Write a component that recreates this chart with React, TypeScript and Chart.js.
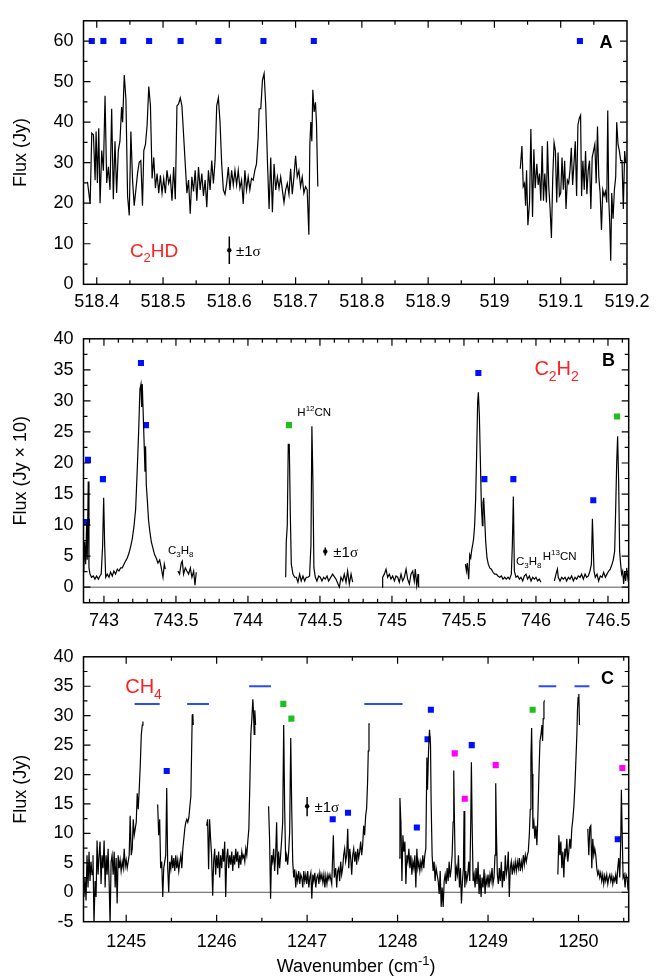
import React, { useEffect, useRef } from 'react';
import { Chart, registerables } from 'chart.js';
Chart.register(...registerables);

const SANS = '"Liberation Sans", Arial, Helvetica, sans-serif';
const SERIF = '"Liberation Serif", "Times New Roman", serif';
const BLUE = '#0010ff';
const GREEN = '#1fbf1f';
const MAGENTA = '#ff00ff';
const LINEBLUE = '#2a4bff';
const RED = '#ff1f1f';

type Pt = [number, number];

// ---------------- Panel A (C2HD) ----------------
const xTicksA = [518.4, 518.5, 518.6, 518.7, 518.8, 518.9, 519, 519.1, 519.2];
const yTicksA = [0, 10, 20, 30, 40, 50, 60];
const fluxA1: Pt[] = [[518.386,25.3],[518.390,19.8],[518.3925,37.3],[518.395,36.9],[518.3975,25.7],[518.399,37.7],[518.401,25.0],[518.403,38.5],[518.405,20.0],[518.4075,33.0],[518.410,28.0],[518.4125,46.5],[518.415,25.0],[518.4175,29.0],[518.420,23.3],[518.4225,43.3],[518.425,21.0],[518.4275,35.3],[518.430,22.5],[518.4325,33.0],[518.435,35.3],[518.4375,43.7],[518.439,40.0],[518.4415,51.6],[518.444,45.7],[518.4465,21.8],[518.449,17.0],[518.4515,37.7],[518.454,25.7],[518.4565,19.4],[518.459,23.3],[518.4615,27.3],[518.464,30.1],[518.4665,30.5],[518.469,19.4],[518.471,33.0],[518.4735,34.5],[518.476,39.3],[518.4785,48.8],[518.481,44.0],[518.4835,26.1],[518.486,31.3],[518.4885,23.7],[518.491,27.3],[518.4935,22.5],[518.496,26.9],[518.4985,22.5],[518.501,26.1],[518.5035,22.5],[518.506,28.1],[518.5085,24.9],[518.511,26.5],[518.5135,20.6],[518.516,28.9],[518.5185,21.0],[518.521,44.0],[518.5235,44.5],[518.526,46.0],[518.5285,44.0],[518.531,36.9],[518.5335,29.7],[518.536,22.5],[518.5385,25.7],[518.541,17.4],[518.5435,26.5],[518.546,22.9],[518.5485,28.1],[518.551,20.6],[518.5535,28.9],[518.556,23.3],[518.5585,27.3],[518.561,21.8],[518.5635,25.7],[518.566,19.0],[518.5685,28.1],[518.571,23.3],[518.5735,30.5],[518.576,24.9],[518.5785,30.5],[518.581,44.0],[518.5835,46.0],[518.586,40.0],[518.5885,29.7],[518.591,23.3],[518.5935,22.2],[518.596,24.9],[518.5985,28.9],[518.601,23.3],[518.6035,28.1],[518.606,24.5],[518.6085,28.1],[518.611,24.5],[518.6135,28.1],[518.616,23.7],[518.6185,25.7],[518.621,19.8],[518.6235,28.1],[518.626,23.3],[518.6285,26.5],[518.631,23.3],[518.6335,26.1],[518.636,25.7],[518.6385,28.1],[518.641,29.7],[518.6435,36.1],[518.645,43.3],[518.6475,43.3],[518.650,50.4],[518.6525,52.0],[518.655,44.0],[518.6575,30.5],[518.660,18.6],[518.6625,31.3],[518.665,17.8],[518.6675,29.7],[518.670,23.3],[518.6725,26.5],[518.675,23.7],[518.6775,26.5],[518.680,23.3],[518.6825,20.2],[518.685,23.3],[518.6875,24.9],[518.690,22.2],[518.6925,28.5],[518.695,22.2],[518.6975,26.5],[518.700,31.7],[518.7025,26.5],[518.705,28.1],[518.7075,24.1],[518.710,26.5],[518.7125,22.5],[518.715,24.1],[518.7175,23.3],[518.720,12.2],[518.7215,34.5],[518.723,40.0],[518.7245,35.3],[518.726,48.0],[518.728,42.5],[518.730,44.9],[518.7315,40.0],[518.7335,24.1]];
const fluxA2: Pt[] = [[519.039,28.5],[519.0415,34.1],[519.0435,24.1],[519.0455,24.9],[519.047,19.4],[519.0485,28.1],[519.0505,14.6],[519.053,20.2],[519.055,38.3],[519.0575,16.6],[519.0595,33.3],[519.0615,23.7],[519.064,29.7],[519.066,24.5],[519.068,27.3],[519.070,20.6],[519.072,34.1],[519.074,20.6],[519.076,27.3],[519.0785,20.2],[519.080,35.3],[519.082,24.1],[519.084,18.6],[519.086,11.4],[519.088,26.5],[519.090,34.9],[519.092,32.9],[519.094,20.2],[519.096,32.5],[519.098,21.8],[519.100,22.5],[519.102,31.3],[519.104,23.3],[519.106,30.5],[519.108,18.6],[519.110,25.7],[519.112,24.9],[519.114,28.1],[519.116,33.7],[519.118,24.5],[519.120,29.7],[519.122,35.3],[519.124,21.8],[519.126,39.3],[519.128,40.9],[519.130,41.7],[519.1315,21.8],[519.1335,30.5],[519.1355,23.3],[519.1375,32.9],[519.1395,22.2],[519.1415,28.1],[519.1435,30.5],[519.1455,18.6],[519.1475,31.3],[519.1495,32.9],[519.1515,34.5],[519.1535,24.9],[519.1555,38.9],[519.1575,26.5],[519.1595,22.5],[519.1615,13.4],[519.1635,23.3],[519.1655,21.8],[519.1675,22.9],[519.1695,20.2],[519.171,42.9],[519.1725,21.0],[519.174,15.0],[519.1755,5.8],[519.177,22.5],[519.179,16.2],[519.181,23.3],[519.183,26.5],[519.1845,40.0],[519.1865,34.5],[519.1885,32.9],[519.1905,30.5],[519.1925,30.5],[519.1945,18.6],[519.1965,32.9],[519.198,30.1]];
const blueA: Pt[] = [[518.3925,60],[518.41,60],[518.44,60],[518.479,60],[518.5265,60],[518.5835,60],[518.6515,60],[518.7275,60],[519.129,60]];
const errA = { x: 518.6, y: 8.4, lo: 5.0, hi: 11.8 };

// ---------------- Panel B (C2H2) ----------------
const xTicksB = [743, 743.5, 744, 744.5, 745, 745.5, 746, 746.5];
const yTicksB = [0, 5, 10, 15, 20, 25, 30, 35, 40];
const fluxB1: Pt[] = [[742.86,2.6],[742.866,7.3],[742.873,3.7],[742.880,10.5],[742.884,4.4],[742.891,17.0],[742.896,3.1],[742.903,2.1],[742.914,1.6],[742.926,1.8],[742.9375,1.3],[742.949,1.8],[742.961,1.3],[742.972,1.8],[742.981,2.1],[742.991,6.8],[742.998,14.4],[743.005,6.8],[743.012,1.6],[743.023,2.1],[743.035,1.6],[743.046,2.4],[743.058,1.8],[743.069,2.6],[743.081,2.1],[743.093,2.9],[743.104,2.6],[743.116,3.1],[743.127,3.1],[743.139,3.7],[743.150,4.2],[743.162,4.7],[743.174,5.5],[743.185,6.5],[743.197,7.8],[743.208,9.7],[743.220,12.5],[743.231,18.8],[743.241,25.1],[743.250,31.9],[743.257,32.7],[743.262,29.0],[743.266,32.7],[743.273,27.7],[743.280,22.5],[743.285,18.6],[743.289,22.7],[743.294,16.5],[743.301,14.1],[743.310,10.7],[743.319,8.9],[743.329,7.3],[743.340,6.3],[743.352,5.2],[743.363,4.7],[743.375,3.9],[743.387,4.4],[743.398,3.1],[743.410,1.6],[743.419,3.7],[743.426,2.9]];
const fluxB2: Pt[] = [[743.514,2.6],[743.525,2.1],[743.537,3.9],[743.544,4.2],[743.553,2.1],[743.565,3.1],[743.576,2.6],[743.588,2.1],[743.600,3.1],[743.611,1.6],[743.623,2.6],[743.632,0.3],[743.641,2.4]];
const fluxB3: Pt[] = [[744.262,1.6],[744.266,7.3],[744.273,9.9],[744.280,23.0],[744.287,23.0],[744.294,12.0],[744.301,3.7],[744.3125,2.1],[744.324,1.6],[744.336,1.6],[744.347,0.8],[744.359,2.1],[744.370,1.0],[744.382,1.8],[744.394,1.0],[744.405,1.6],[744.417,1.6],[744.428,1.8],[744.4375,6.8],[744.444,25.9],[744.451,17.3],[744.458,3.1],[744.468,1.6],[744.479,1.0],[744.491,1.8],[744.502,1.6],[744.514,1.0],[744.525,1.6],[744.537,1.3],[744.549,1.8],[744.560,1.0],[744.588,2.1],[744.611,1.3],[744.635,0.0],[744.646,1.6],[744.658,1.0],[744.669,2.1],[744.681,0.8],[744.692,2.6],[744.704,0.5],[744.716,2.1],[744.727,0.8]];
const fluxB4: Pt[] = [[744.931,0.0],[744.9355,1.6],[744.947,2.1],[744.959,2.9],[744.970,1.6],[744.982,2.1],[744.993,1.3],[745.005,1.8],[745.017,1.0],[745.028,1.8],[745.040,1.6],[745.051,0.8],[745.063,2.1],[745.074,1.0],[745.086,1.6],[745.098,2.9],[745.109,1.3],[745.121,0.5],[745.132,2.1],[745.144,2.6],[745.155,1.0],[745.162,2.9],[745.172,0.3],[745.181,2.1],[745.185,0.0]];
const fluxB5: Pt[] = [[745.510,3.7],[745.517,2.6],[745.523,3.9],[745.533,1.3],[745.540,5.2],[745.547,4.7],[745.554,6.0],[745.5605,6.8],[745.567,7.8],[745.574,9.9],[745.581,14.1],[745.588,21.4],[745.595,29.8],[745.600,31.4],[745.607,27.7],[745.614,20.4],[745.621,13.1],[745.628,9.9],[745.632,13.6],[745.637,14.4],[745.644,11.0],[745.651,7.3],[745.660,4.7],[745.669,3.7],[745.679,3.1],[745.690,2.9],[745.702,2.4],[745.713,2.1],[745.725,2.1],[745.736,1.8],[745.748,1.6],[745.760,1.8],[745.771,1.3],[745.783,1.6],[745.794,1.3],[745.806,1.6],[745.817,1.3],[745.829,2.1],[745.836,6.8],[745.843,14.6],[745.850,2.6],[745.861,1.6],[745.873,1.8],[745.885,1.3],[745.896,1.6],[745.908,1.0],[745.919,1.8],[745.931,2.1],[745.942,1.3],[745.954,1.8],[745.966,1.0],[745.977,1.6],[745.989,1.3],[746.000,1.6],[746.012,1.0],[746.023,1.3],[746.035,0.8]];
const fluxB6: Pt[] = [[746.128,1.0],[746.139,2.1],[746.149,2.9],[746.155,1.6],[746.167,1.0],[746.179,1.6],[746.190,1.3],[746.202,1.6],[746.213,1.0],[746.225,1.6],[746.236,1.3],[746.248,1.8],[746.2595,1.0],[746.271,1.6],[746.283,1.3],[746.294,1.8],[746.306,1.6],[746.317,2.1],[746.329,1.3],[746.341,2.1],[746.352,1.6],[746.364,1.8],[746.375,2.6],[746.385,3.7],[746.392,11.0],[746.396,11.0],[746.403,2.6],[746.412,1.6],[746.424,2.1],[746.435,1.0],[746.447,1.8],[746.459,1.6],[746.470,2.4],[746.482,1.6],[746.493,2.1],[746.505,2.6],[746.516,2.9],[746.528,3.7],[746.537,4.4],[746.5465,5.8],[746.553,12.0],[746.5605,19.9],[746.567,24.3],[746.574,17.3],[746.581,5.8],[746.588,3.7],[746.595,2.1],[746.602,2.6],[746.609,0.5],[746.616,2.6],[746.623,1.0],[746.630,3.1],[746.637,1.6],[746.644,0.5]];
const blueB: Pt[] = [[742.882,10.5],[742.889,20.5],[742.993,17.4],[743.257,36.1],[743.292,26.1],[745.600,34.5],[745.642,17.4],[745.843,17.4],[746.398,14.0]];
const greenB: Pt[] = [[744.285,26.1],[746.563,27.5]];
const errB = { x: 744.537, y: 5.75, lo: 5.1, hi: 6.4 };

// ---------------- Panel C (CH4) ----------------
const xTicksC = [1245, 1246, 1247, 1248, 1249, 1250];
const yTicksC = [-5, 0, 5, 10, 15, 20, 25, 30, 35, 40];
const fluxC1: Pt[] = [[1244.533,-0.8],[1244.544,2.5],[1244.556,-1.4],[1244.567,6.3],[1244.578,0.8],[1244.589,6.9],[1244.600,1.9],[1244.611,5.2],[1244.622,3.0],[1244.633,6.3],[1244.644,-5.5],[1244.656,1.9],[1244.667,-0.8],[1244.678,8.8],[1244.689,3.0],[1244.700,6.3],[1244.711,8.6],[1244.722,1.4],[1244.733,6.3],[1244.744,4.1],[1244.756,8.8],[1244.767,0.8],[1244.778,6.3],[1244.789,3.0],[1244.800,7.4],[1244.811,1.9],[1244.822,-5.5],[1244.833,5.2],[1244.844,6.3],[1244.856,3.0],[1244.867,6.9],[1244.878,0.8],[1244.889,5.8],[1244.900,-1.9],[1244.911,6.3],[1244.922,4.1],[1244.933,5.5],[1244.944,3.6],[1244.956,5.2],[1244.967,4.1],[1244.978,7.4],[1244.989,4.4],[1245.000,5.5],[1245.011,4.1],[1245.022,5.2],[1245.033,6.3],[1245.044,13.0],[1245.056,6.3],[1245.067,7.4],[1245.078,12.4],[1245.089,9.7],[1245.100,10.8],[1245.111,11.9],[1245.122,16.8],[1245.133,14.1],[1245.144,17.4],[1245.156,21.8],[1245.167,26.8],[1245.178,28.4],[1245.185,29.0]];
const fluxC2: Pt[] = [[1245.348,14.9],[1245.359,9.7],[1245.370,12.4],[1245.381,4.1],[1245.393,5.2],[1245.404,-0.8],[1245.415,4.1],[1245.426,5.2],[1245.437,6.3],[1245.448,17.7],[1245.459,4.1],[1245.470,0.0],[1245.481,5.2],[1245.493,3.9],[1245.504,6.3],[1245.515,4.1],[1245.526,5.8],[1245.537,3.6],[1245.548,6.3],[1245.559,4.1],[1245.570,5.5],[1245.581,3.6],[1245.593,5.2],[1245.604,6.3],[1245.615,4.1],[1245.626,7.4],[1245.637,9.1],[1245.648,10.8],[1245.659,11.9],[1245.670,12.4],[1245.681,11.9],[1245.693,12.7],[1245.704,14.6],[1245.715,16.3],[1245.722,22.9],[1245.730,30.1],[1245.737,30.3],[1245.741,28.4]];
const fluxC3: Pt[] = [[1245.889,11.3],[1245.900,12.4],[1245.911,3.9],[1245.922,12.4],[1245.933,9.1],[1245.944,6.3],[1245.956,-0.6],[1245.967,5.2],[1245.978,7.4],[1245.989,3.0],[1246.000,6.3],[1246.011,4.1],[1246.022,6.9],[1246.033,2.5],[1246.044,6.3],[1246.056,4.1],[1246.067,7.4],[1246.078,5.2],[1246.089,8.6],[1246.100,-0.8],[1246.111,5.8],[1246.122,7.4],[1246.133,4.1],[1246.144,6.3],[1246.156,4.7],[1246.167,6.9],[1246.178,3.6],[1246.189,6.3],[1246.200,4.7],[1246.211,7.4],[1246.222,5.2],[1246.233,6.9],[1246.244,4.1],[1246.256,6.3],[1246.267,4.7],[1246.278,6.9],[1246.289,5.8],[1246.300,6.3],[1246.311,5.2],[1246.322,7.4],[1246.333,6.3],[1246.344,8.6],[1246.356,10.8],[1246.367,18.5],[1246.378,26.8],[1246.389,29.5],[1246.400,32.8],[1246.407,30.6],[1246.415,26.8],[1246.422,30.9],[1246.430,28.4]];
const fluxC4: Pt[] = [[1246.574,14.6],[1246.585,9.1],[1246.596,-1.1],[1246.607,6.3],[1246.619,5.2],[1246.630,7.4],[1246.641,3.6],[1246.652,6.3],[1246.663,11.9],[1246.674,3.0],[1246.685,6.9],[1246.696,4.1],[1246.707,6.3],[1246.719,9.1],[1246.730,11.9],[1246.741,28.4],[1246.752,14.1],[1246.763,5.2],[1246.774,6.3],[1246.785,4.7],[1246.796,6.9],[1246.807,10.2],[1246.819,26.2],[1246.830,14.1],[1246.841,5.2],[1246.852,2.5],[1246.863,3.9],[1246.874,0.8],[1246.885,3.0],[1246.896,1.9],[1246.907,3.6],[1246.919,1.4],[1246.930,3.0],[1246.941,2.5],[1246.952,0.8],[1246.963,3.6],[1246.974,1.9],[1246.985,3.0],[1246.996,1.4],[1247.007,3.6],[1247.019,0.8],[1247.030,2.5],[1247.041,3.3],[1247.052,-1.1],[1247.063,3.0],[1247.074,1.9],[1247.085,3.3],[1247.096,0.8],[1247.107,2.5],[1247.119,3.0],[1247.130,1.4],[1247.141,3.3],[1247.152,2.2],[1247.163,3.0],[1247.174,1.7],[1247.185,3.0],[1247.196,0.8],[1247.207,2.8],[1247.219,1.4],[1247.230,3.0],[1247.241,2.2],[1247.252,3.0],[1247.272,1.4],[1247.290,9.7],[1247.301,2.5],[1247.316,4.1],[1247.327,0.8],[1247.338,3.6],[1247.349,4.1],[1247.360,1.9],[1247.371,5.2],[1247.382,3.0],[1247.393,4.1],[1247.404,6.3],[1247.415,7.4],[1247.426,5.2],[1247.4375,6.3],[1247.449,10.8],[1247.460,4.1],[1247.471,7.4],[1247.482,5.8],[1247.493,3.0],[1247.504,6.3],[1247.515,7.4],[1247.526,5.2],[1247.537,6.9],[1247.548,4.7],[1247.559,7.4],[1247.570,5.8],[1247.581,6.9],[1247.592,8.6],[1247.603,6.3],[1247.614,8.0],[1247.625,11.3],[1247.636,9.7],[1247.647,13.0],[1247.658,14.3],[1247.669,19.0],[1247.676,24.0],[1247.684,28.7],[1247.6875,28.4]];
const fluxC5: Pt[] = [[1248.018,5.8],[1248.026,16.0],[1248.037,11.9],[1248.048,1.9],[1248.059,9.7],[1248.070,6.9],[1248.081,8.6],[1248.092,1.4],[1248.103,6.3],[1248.114,5.2],[1248.125,7.4],[1248.136,4.1],[1248.147,6.3],[1248.158,3.0],[1248.169,5.2],[1248.180,4.1],[1248.191,6.3],[1248.202,0.8],[1248.213,7.4],[1248.224,4.1],[1248.235,5.2],[1248.246,3.6],[1248.257,5.2],[1248.268,4.1],[1248.279,6.3],[1248.290,4.1],[1248.301,6.3],[1248.3125,7.4],[1248.324,22.9],[1248.331,17.4],[1248.342,24.0],[1248.353,27.6],[1248.364,25.1],[1248.371,15.2],[1248.382,6.3],[1248.393,3.6],[1248.404,5.2],[1248.415,1.9],[1248.426,4.1],[1248.4375,3.0],[1248.449,1.9],[1248.460,-0.3],[1248.471,3.6],[1248.482,-2.5],[1248.493,0.8],[1248.504,-2.5],[1248.515,1.9],[1248.526,3.0],[1248.537,1.4],[1248.548,4.1],[1248.559,1.9],[1248.570,5.2],[1248.581,2.5],[1248.592,3.9],[1248.603,6.3],[1248.614,11.9],[1248.621,20.7],[1248.629,11.9],[1248.640,1.9],[1248.651,4.1],[1248.662,3.0],[1248.673,6.3],[1248.684,0.8],[1248.695,4.1],[1248.706,-1.9],[1248.717,1.9],[1248.728,4.1],[1248.735,13.8],[1248.743,0.8],[1248.754,3.6],[1248.765,1.9],[1248.776,3.0],[1248.787,5.2],[1248.798,1.9],[1248.809,11.9],[1248.816,22.1],[1248.824,11.9],[1248.835,1.9],[1248.846,3.0],[1248.857,0.8],[1248.868,4.1],[1248.879,1.4],[1248.890,5.2],[1248.901,-0.3],[1248.912,3.0],[1248.923,-0.8],[1248.934,2.5],[1248.945,0.8],[1248.956,3.9],[1248.967,-0.3],[1248.978,2.5],[1248.989,1.4],[1249.000,3.0],[1249.011,0.8],[1249.022,3.0],[1249.033,1.9],[1249.044,4.1],[1249.055,1.4],[1249.066,2.5],[1249.077,6.3],[1249.085,18.5],[1249.092,10.8],[1249.103,3.0],[1249.114,1.4],[1249.125,4.1],[1249.136,1.9],[1249.147,5.2],[1249.158,0.8],[1249.169,3.6],[1249.180,1.9],[1249.191,6.3],[1249.202,3.0],[1249.213,4.1],[1249.224,6.9],[1249.235,-0.8],[1249.246,4.1],[1249.257,5.2],[1249.268,3.0],[1249.279,4.7],[1249.290,3.6],[1249.301,5.2],[1249.3125,3.6],[1249.324,5.2],[1249.335,4.1],[1249.346,5.8],[1249.357,3.6],[1249.368,5.2],[1249.379,4.1],[1249.390,6.3],[1249.401,4.7],[1249.412,6.3],[1249.423,5.2],[1249.434,6.3],[1249.445,6.9],[1249.456,9.7],[1249.467,14.1],[1249.474,22.9],[1249.482,27.9],[1249.489,20.1],[1249.496,10.8],[1249.507,11.9],[1249.518,9.1],[1249.529,11.3],[1249.540,8.0],[1249.551,13.0],[1249.562,19.6],[1249.574,25.7],[1249.585,26.8],[1249.596,28.4],[1249.603,25.7],[1249.610,29.5],[1249.618,32.3],[1249.625,32.6]];
const fluxC6: Pt[] = [[1249.772,3.0],[1249.783,9.7],[1249.794,6.3],[1249.805,8.6],[1249.816,4.1],[1249.827,6.9],[1249.838,2.5],[1249.849,7.4],[1249.860,6.3],[1249.871,9.1],[1249.882,5.2],[1249.893,6.9],[1249.904,9.1],[1249.915,7.4],[1249.926,10.8],[1249.9375,12.4],[1249.949,14.6],[1249.960,17.9],[1249.971,22.3],[1249.982,26.8],[1249.989,31.2],[1249.996,33.1],[1250.004,33.7],[1250.011,28.4]];
const fluxC7: Pt[] = [[1250.103,10.8],[1250.114,6.3],[1250.125,11.0],[1250.136,11.3],[1250.147,4.1],[1250.158,9.1],[1250.169,6.3],[1250.180,7.4],[1250.191,6.3],[1250.202,4.1],[1250.213,3.0],[1250.224,3.6],[1250.235,2.5],[1250.246,3.3],[1250.257,1.9],[1250.268,3.0],[1250.279,1.4],[1250.290,2.8],[1250.301,1.9],[1250.3125,3.0],[1250.324,1.4],[1250.335,2.5],[1250.346,3.0],[1250.357,1.9],[1250.368,2.8],[1250.379,1.4],[1250.390,2.5],[1250.401,1.9],[1250.412,3.0],[1250.423,1.4],[1250.434,4.1],[1250.445,5.8],[1250.456,2.5],[1250.467,8.6],[1250.474,17.4],[1250.482,10.8],[1250.493,2.5],[1250.504,3.0],[1250.515,0.8],[1250.526,3.0],[1250.537,2.5],[1250.548,0.3]];
const blueC: Pt[] = [[1245.448,20.6],[1247.283,12.4],[1247.452,13.5],[1248.213,11.0],[1248.331,26.0],[1248.368,31.0],[1248.820,25.0],[1250.434,9.0]];
const greenC: Pt[] = [[1246.737,32.0],[1246.826,29.5],[1249.493,31.0]];
const magentaC: Pt[] = [[1248.632,23.6],[1248.743,15.9],[1249.085,21.6],[1250.485,21.1]];
// CH4 band markers: [start, end, level]
const bandsC: [number, number, number][] = [[1245.093,1245.370,32],[1245.674,1245.915,32],[1246.359,1246.600,35],[1247.632,1248.055,32],[1249.559,1249.754,35],[1249.956,1250.121,35]];
const errC = { x: 1247.0, y: 14.6, lo: 12.9, hi: 16.2 };

// ---------------- helpers ----------------
type Part = { t: string; s?: 'sub' | 'sup'; serif?: boolean };
type TextItem = { x: number; y: number; parts: Part[]; size: number; color: string; bold?: boolean; align?: 'left' | 'center' };
const sigma: Part[] = [{ t: '±1' }, { t: 'σ', serif: true }];

function drawRich(ctx: CanvasRenderingContext2D, parts: Part[], x: number, y: number, size: number, color: string, bold: boolean, align: string) {
  const fontFor = (p: Part) => `${bold ? 'bold ' : ''}${p.s ? Math.round(size * 0.7) : size}px ${p.serif ? SERIF : SANS}`;
  const widths = parts.map((p) => { ctx.font = fontFor(p); return ctx.measureText(p.t).width; });
  const total = widths.reduce((a, b) => a + b, 0);
  let cx = align === 'center' ? x - total / 2 : x;
  const base = y + size * 0.36;
  ctx.fillStyle = color;
  ctx.textBaseline = 'alphabetic';
  ctx.textAlign = 'left';
  parts.forEach((p, i) => {
    ctx.font = fontFor(p);
    const dy = p.s === 'sub' ? size * 0.28 : p.s === 'sup' ? -size * 0.42 : 0;
    ctx.fillText(p.t, cx, base + dy);
    cx += widths[i];
  });
}

function stepValues(min: number, max: number, step: number) {
  const out: number[] = [];
  for (let k = Math.ceil(min / step - 1e-9); k * step <= max + 1e-9; k++) out.push(k * step);
  return out;
}

type PanelCfg = {
  xMin: number; xMax: number; yMin: number; yMax: number;
  xTicks: number[]; yTicks: number[]; xMinor: number; yMinor: number;
  zero: boolean; texts: TextItem[]; xTitle: boolean; yTitle: string;
  top: number; height: number; padTop: number; xAxisH: number; xPad: number;
  datasets: any[];
};

function makeFrame(cfg: PanelCfg) {
  return {
    id: 'frame',
    beforeDatasetsDraw(chart: any) {
      if (!cfg.zero) return;
      const { ctx, chartArea } = chart;
      const y = chart.scales.y.getPixelForValue(0);
      ctx.save();
      ctx.strokeStyle = '#555';
      ctx.lineWidth = 1;
      ctx.beginPath();
      ctx.moveTo(chartArea.left, y);
      ctx.lineTo(chartArea.right, y);
      ctx.stroke();
      ctx.restore();
    },
    afterDraw(chart: any) {
      const { ctx, chartArea } = chart;
      const { left, right, top, bottom } = chartArea;
      const xs = chart.scales.x;
      const ys = chart.scales.y;
      ctx.save();
      ctx.strokeStyle = '#000';
      ctx.lineWidth = 1.2;
      ctx.beginPath();
      const xt = (vals: number[], len: number) => vals.forEach((v) => {
        const px = xs.getPixelForValue(v);
        if (px < left + 1 || px > right - 1) return;
        ctx.moveTo(px, bottom); ctx.lineTo(px, bottom - len);
        ctx.moveTo(px, top); ctx.lineTo(px, top + len);
      });
      const yt = (vals: number[], len: number) => vals.forEach((v) => {
        const py = ys.getPixelForValue(v);
        if (py < top + 1 || py > bottom - 1) return;
        ctx.moveTo(left, py); ctx.lineTo(left + len, py);
        ctx.moveTo(right, py); ctx.lineTo(right - len, py);
      });
      xt(stepValues(cfg.xMin, cfg.xMax, cfg.xMinor), 4);
      xt(cfg.xTicks, 7);
      yt(stepValues(cfg.yMin, cfg.yMax, cfg.yMinor), 4);
      yt(cfg.yTicks, 7);
      ctx.stroke();
      ctx.lineWidth = 1.5;
      ctx.strokeRect(left, top, right - left, bottom - top);
      cfg.texts.forEach((t) => {
        drawRich(ctx, t.parts, xs.getPixelForValue(t.x), ys.getPixelForValue(t.y), t.size, t.color, !!t.bold, t.align || 'left');
      });
      if (cfg.xTitle) {
        drawRich(ctx, [{ t: 'Wavenumber (cm' }, { t: '-1', s: 'sup' }, { t: ')' }], (left + right) / 2, chart.height - 13, 18, '#000', false, 'center');
      }
      ctx.restore();
    },
  };
}

const toXY = (pts: Pt[]) => pts.map(([x, y]) => ({ x, y }));
const lineDs = (pts: Pt[]) => ({ data: toXY(pts), borderColor: '#000', borderWidth: 1.2, pointRadius: 0, fill: false, tension: 0 });
const markDs = (pts: Pt[], color: string) => ({ data: toXY(pts), showLine: false, pointStyle: 'rect', pointRadius: 4.3, pointBackgroundColor: color, pointBorderWidth: 0, borderWidth: 0 });
const errDs = (e: { x: number; y: number; lo: number; hi: number }) => [
  { data: [{ x: e.x, y: e.lo }, { x: e.x, y: e.hi }], borderColor: '#000', borderWidth: 1.5, pointRadius: 0 },
  { data: [{ x: e.x, y: e.y }], showLine: false, pointRadius: 2.2, pointBackgroundColor: '#000', pointBorderWidth: 0 },
];
const bandDs = (b: [number, number, number]) => ({ data: [{ x: b[0], y: b[2] }, { x: b[1], y: b[2] }], borderColor: LINEBLUE, borderWidth: 2, pointRadius: 0 });

const panels: PanelCfg[] = [
  {
    xMin: 518.38, xMax: 519.2, yMin: 0, yMax: 65, xTicks: xTicksA, yTicks: yTicksA, xMinor: 0.05, yMinor: 5,
    zero: false, xTitle: false, yTitle: 'Flux (Jy)', top: 0, height: 320, padTop: 12.3, xAxisH: 35.7, xPad: 6.5,
    texts: [
      { x: 518.45, y: 8.4, parts: [{ t: 'C' }, { t: '2', s: 'sub' }, { t: 'HD' }], size: 19, color: RED },
      { x: 518.61, y: 8.4, parts: sigma, size: 15, color: '#000' },
      { x: 519.1685, y: 60, parts: [{ t: 'A' }], size: 18, color: '#000', bold: true, align: 'center' },
    ],
    datasets: [lineDs(fluxA1), lineDs(fluxA2), markDs(blueA, BLUE), ...errDs(errA)],
  },
  {
    xMin: 742.858, xMax: 746.644, yMin: -2.5, yMax: 40, xTicks: xTicksB, yTicks: yTicksB, xMinor: 0.1, yMinor: 2.5,
    zero: true, xTitle: false, yTitle: 'Flux (Jy × 10)', top: 318, height: 318, padTop: 12.7, xAxisH: 33.3, xPad: 8,
    texts: [
      { x: 744.343, y: 28.2, parts: [{ t: 'H' }, { t: '12', s: 'sup' }, { t: 'CN' }], size: 11.5, color: '#000' },
      { x: 743.444, y: 6.0, parts: [{ t: 'C' }, { t: '3', s: 'sub' }, { t: 'H' }, { t: '8', s: 'sub' }], size: 11.5, color: '#000' },
      { x: 745.861, y: 4.2, parts: [{ t: 'C' }, { t: '3', s: 'sub' }, { t: 'H' }, { t: '8', s: 'sub' }], size: 11.5, color: '#000' },
      { x: 746.047, y: 5.0, parts: [{ t: 'H' }, { t: '13', s: 'sup' }, { t: 'CN' }], size: 11.5, color: '#000' },
      { x: 744.593, y: 5.65, parts: sigma, size: 15, color: '#000' },
      { x: 745.989, y: 35.3, parts: [{ t: 'C' }, { t: '2', s: 'sub' }, { t: 'H' }, { t: '2', s: 'sub' }], size: 20, color: RED },
      { x: 746.503, y: 36.6, parts: [{ t: 'B' }], size: 18, color: '#000', bold: true, align: 'center' },
    ],
    datasets: [lineDs(fluxB1), lineDs(fluxB2), lineDs(fluxB3), lineDs(fluxB4), lineDs(fluxB5), lineDs(fluxB6), markDs(blueB, BLUE), markDs(greenB, GREEN), ...errDs(errB)],
  },
  {
    xMin: 1244.528, xMax: 1250.555, yMin: -5, yMax: 40, xTicks: xTicksC, yTicks: yTicksC, xMinor: 0.5, yMinor: 2.5,
    zero: true, xTitle: true, yTitle: 'Flux (Jy)', top: 636, height: 343, padTop: 14, xAxisH: 57.3, xPad: 9.5,
    texts: [
      { x: 1244.989, y: 35.0, parts: [{ t: 'CH' }, { t: '4', s: 'sub' }], size: 20, color: RED },
      { x: 1247.081, y: 14.6, parts: sigma, size: 15, color: '#000' },
      { x: 1250.32, y: 36.4, parts: [{ t: 'C' }], size: 18, color: '#000', bold: true, align: 'center' },
    ],
    datasets: [lineDs(fluxC1), lineDs(fluxC2), lineDs(fluxC3), lineDs(fluxC4), lineDs(fluxC5), lineDs(fluxC6), lineDs(fluxC7),
      ...bandsC.map(bandDs), markDs(blueC, BLUE), markDs(greenC, GREEN), markDs(magentaC, MAGENTA), ...errDs(errC)],
  },
];

function Panel({ cfg }: { cfg: PanelCfg }) {
  const ref = useRef<HTMLCanvasElement | null>(null);
  useEffect(() => {
    if (!ref.current) return;
    const tickFont = { size: 18, family: SANS };
    const chart = new Chart(ref.current, {
      type: 'line',
      data: { datasets: cfg.datasets },
      options: {
        responsive: false,
        animation: false,
        devicePixelRatio: 1,
        events: [],
        layout: { padding: { left: 0, right: 27.3, top: cfg.padTop, bottom: 0 } },
        plugins: { legend: { display: false }, tooltip: { enabled: false } },
        scales: {
          x: {
            type: 'linear', min: cfg.xMin, max: cfg.xMax, bounds: 'data',
            afterBuildTicks: (s: any) => { s.ticks = cfg.xTicks.map((v) => ({ value: v })); },
            afterFit: (s: any) => { s.height = cfg.xAxisH; },
            grid: { display: false, drawTicks: false }, border: { display: false },
            ticks: { color: '#000', font: tickFont, padding: cfg.xPad, autoSkip: false, maxRotation: 0, callback: (v: any) => String(v) },
          },
          y: {
            type: 'linear', min: cfg.yMin, max: cfg.yMax, bounds: 'data',
            afterBuildTicks: (s: any) => { s.ticks = cfg.yTicks.map((v) => ({ value: v })); },
            afterFit: (s: any) => { s.width = 83.5; },
            grid: { display: false, drawTicks: false }, border: { display: false },
            title: { display: true, text: cfg.yTitle, color: '#000', font: { size: 18, family: SANS }, padding: { top: 10.7, bottom: 0 } },
            ticks: { color: '#000', font: tickFont, padding: 10, autoSkip: false, callback: (v: any) => String(v) },
          },
        },
      } as any,
      plugins: [makeFrame(cfg)],
    });
    return () => chart.destroy();
  }, [cfg]);
  return (
    <canvas ref={ref} width={656} height={cfg.height}
      style={{ position: 'absolute', left: 0, top: cfg.top, width: 656, height: cfg.height }} />
  );
}

export default function App() {
  return (
    <div style={{ position: 'absolute', left: 0, top: 0, width: 656, height: 979, background: '#fff', overflow: 'hidden' }}>
      {panels.map((p, i) => <Panel key={i} cfg={p} />)}
    </div>
  );
}
